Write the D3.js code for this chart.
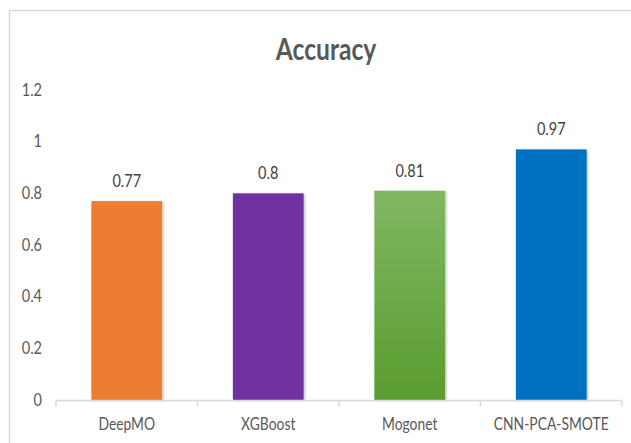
<!DOCTYPE html>
<html>
<head>
<meta charset="utf-8">
<script src="https://cdn.jsdelivr.net/npm/d3@7"></script>
<style>
  html, body { margin: 0; padding: 0; background: #fff; }
  svg { display: block; }
</style>
</head>
<body>
<svg id="chart" width="631" height="443"></svg>
<script>
// Model names and their accuracy scores
const models = ["DeepMO", "XGBoost", "Mogonet", "CNN-PCA-SMOTE"];
const accuracy = [0.77, 0.8, 0.81, 0.97];
const barColors = ["#ED7D31", "#7030A0", "url(#greenGrad)", "#0070C0"];
const yTicks = [0, 0.2, 0.4, 0.6, 0.8, 1, 1.2];
const titleText = "Accuracy";

const svg = d3.select("#chart");
const font = "Lato, 'Open Sans', sans-serif";

// Narrow the glyphs horizontally for a condensed look
function condense(sel, factor) {
  sel.each(function () {
    const w = this.getComputedTextLength();
    d3.select(this)
      .attr("textLength", w * factor)
      .attr("lengthAdjust", "spacingAndGlyphs");
  });
}

const defs = svg.append("defs");
const grad = defs.append("linearGradient")
  .attr("id", "greenGrad").attr("x1", 0).attr("y1", 0).attr("x2", 0).attr("y2", 1);
grad.append("stop").attr("offset", "0%").attr("stop-color", "#80B862");
grad.append("stop").attr("offset", "100%").attr("stop-color", "#5A9C2F");

const shadow = defs.append("filter").attr("id", "barShadow")
  .attr("x", "-10%").attr("y", "-10%").attr("width", "130%").attr("height", "130%");
shadow.append("feDropShadow")
  .attr("dx", 1.2).attr("dy", 0.8).attr("stdDeviation", 0.9)
  .attr("flood-color", "#000").attr("flood-opacity", 0.28);

// Chart frame (runs past the right and bottom edges)
svg.append("rect")
  .attr("x", 9.5).attr("y", 10.5)
  .attr("width", 660).attr("height", 460)
  .attr("fill", "#fff").attr("stroke", "#D9D9D9").attr("stroke-width", 1.5);

const x = d3.scaleBand()
  .domain(models)
  .range([56, 622])
  .paddingInner(0.5)
  .paddingOuter(0.25);

const y = d3.scaleLinear()
  .domain([0, 1.2])
  .range([400, 90]);

// Title
svg.append("text")
  .attr("x", 326).attr("y", 60)
  .attr("text-anchor", "middle")
  .attr("font-family", font)
  .attr("font-weight", "bold")
  .attr("font-size", 30)
  .attr("fill", "#595959")
  .text(titleText)
  .call(condense, 0.82);

// Y axis labels (no axis line)
const yAxis = svg.append("g")
  .attr("transform", "translate(42,0)")
  .call(d3.axisLeft(y).tickValues(yTicks).tickSize(0).tickPadding(0)
    .tickFormat(d => d3.format("~g")(d)));
yAxis.select(".domain").remove();
yAxis.selectAll("text")
  .attr("font-family", font)
  .attr("font-size", 16.5)
  .attr("fill", "#595959")
  .call(condense, 0.88);

// Bars
svg.append("g").selectAll("rect")
  .data(models)
  .join("rect")
  .attr("x", d => x(d))
  .attr("width", x.bandwidth())
  .attr("y", (d, i) => y(accuracy[i]))
  .attr("height", (d, i) => y(0) - y(accuracy[i]))
  .attr("fill", (d, i) => barColors[i])
  .attr("filter", "url(#barShadow)");

// Value labels
svg.append("g").selectAll("text")
  .data(models)
  .join("text")
  .attr("x", d => x(d) + x.bandwidth() / 2)
  .attr("y", (d, i) => y(accuracy[i]) - 14)
  .attr("text-anchor", "middle")
  .attr("font-family", font)
  .attr("font-size", 16.5)
  .attr("fill", "#404040")
  .text((d, i) => d3.format("~g")(accuracy[i]))
  .call(condense, 0.88);

// X axis with category separators
const xAxisG = svg.append("g").attr("transform", "translate(0,400.5)");
xAxisG.append("line")
  .attr("x1", 56).attr("x2", 622)
  .attr("stroke", "#D9D9D9").attr("stroke-width", 1.5);
const step = x.step();
const bounds = d3.range(models.length + 1).map(i => 56 + i * step);
xAxisG.selectAll("line.sep")
  .data(bounds)
  .join("line")
  .attr("class", "sep")
  .attr("x1", d => d).attr("x2", d => d)
  .attr("y1", 0).attr("y2", 6)
  .attr("stroke", "#D9D9D9").attr("stroke-width", 1.5);
xAxisG.selectAll("text")
  .data(models)
  .join("text")
  .attr("x", d => x(d) + x.bandwidth() / 2)
  .attr("y", 29)
  .attr("text-anchor", "middle")
  .attr("font-family", font)
  .attr("font-size", 16.5)
  .attr("fill", "#595959")
  .text(d => d)
  .call(condense, 0.84);
</script>
</body>
</html>
